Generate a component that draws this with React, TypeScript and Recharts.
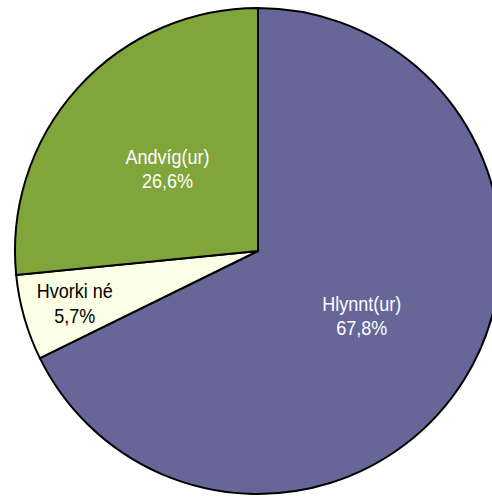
import React from 'react';
import { PieChart, Pie, Cell } from 'recharts';

const categories: string[] = ['Hlynnt(ur)', 'Hvorki né', 'Andvíg(ur)'];
const values: number[] = [67.8, 5.7, 26.6];
const colors: string[] = ['#666699', '#FAFFE6', '#80A53A'];
const labelColors: string[] = ['#FFFFFF', '#000000', '#FFFFFF'];

const data = categories.map((name, i) => ({ name, value: values[i] }));

const RADIAN = Math.PI / 180;

const renderLabel = (props: any) => {
  const { cx, cy, midAngle, outerRadius, percent, index, name, value } = props;
  const frac = percent < 0.1 ? 0.784 : 0.503;
  const r = outerRadius * frac;
  const x = cx + r * Math.cos(-midAngle * RADIAN);
  const y = cy + r * Math.sin(-midAngle * RADIAN);
  const pct = Number(value).toFixed(1).replace('.', ',') + '%';
  return (
    <g transform={`translate(${x},${y}) scale(0.9,1)`}>
      <text
        x={0}
        y={-5}
        textAnchor="middle"
        fill={labelColors[index]}
        style={{ fontFamily: '"Liberation Sans", Arial, sans-serif', fontSize: 20 }}
      >
        {name}
      </text>
      <text
        x={0}
        y={19.5}
        textAnchor="middle"
        fill={labelColors[index]}
        style={{ fontFamily: '"Liberation Sans", Arial, sans-serif', fontSize: 20 }}
      >
        {pct}
      </text>
    </g>
  );
};

export default function App() {
  return (
    <div style={{ position: 'absolute', left: 0, top: 0, width: 492, height: 497, background: '#fff' }}>
      <PieChart width={492} height={497} margin={{ top: 0, right: 0, bottom: 0, left: 0 }}>
        <Pie
          data={data}
          dataKey="value"
          nameKey="name"
          cx={258}
          cy={251}
          outerRadius={243}
          startAngle={90}
          endAngle={-270}
          stroke="#000000"
          strokeWidth={2}
          label={renderLabel}
          labelLine={false}
          isAnimationActive={false}
        >
          {data.map((d, i) => (
            <Cell key={d.name} fill={colors[i]} stroke="#000000" strokeWidth={2} />
          ))}
        </Pie>
      </PieChart>
    </div>
  );
}
